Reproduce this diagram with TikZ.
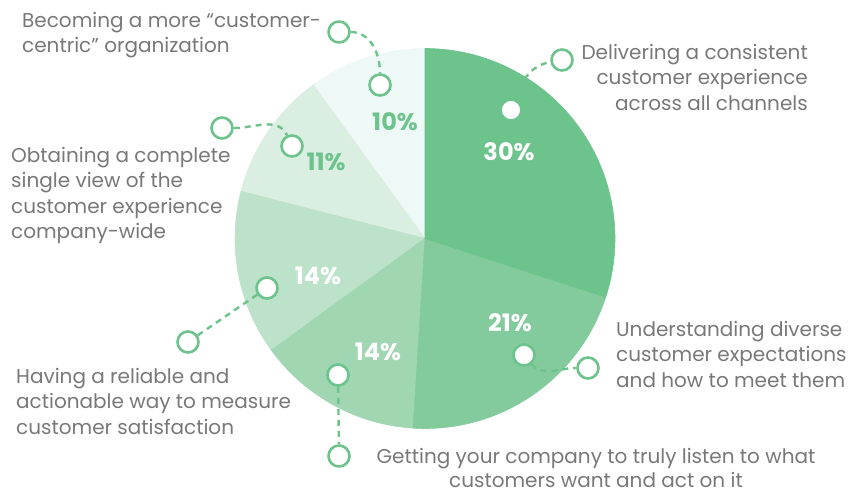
\documentclass[tikz,border=0pt]{standalone}
\usepackage{fontspec}
\setmainfont{Poppins}
\usetikzlibrary{positioning}
\definecolor{gA}{HTML}{6CC38B}
\definecolor{gB}{HTML}{83CB9D}
\definecolor{gC}{HTML}{A0D7B2}
\definecolor{gD}{HTML}{BCE2CA}
\definecolor{gE}{HTML}{DBEEE2}
\definecolor{gF}{HTML}{EEF8F7}
\definecolor{txt}{HTML}{787878}
\begin{document}
\begin{tikzpicture}[x=1pt,y=-1pt,font=\fontsize{20}{25.5}\selectfont,
    ring node/.style={circle,draw=gA,fill=white,line width=2.6pt,minimum size=21pt,inner sep=0pt},
    label node/.style={text=txt,inner sep=0pt},
    pct node/.style={font=\fontsize{24}{24}\selectfont\bfseries,text=white,inner sep=0pt},
    link/.style={draw=gA,line width=2.4pt,dash pattern=on 6pt off 5pt}]

    \useasboundingbox (0,0) rectangle (860,493);
    \coordinate (c) at (425,238.5);

    % slices, lightest first
    \foreach \a/\b/\col in {-234/-270/gF, -194.4/-234/gE, -144/-194.4/gD, -93.6/-144/gC, -18/-93.6/gB, 90/-18/gA}
        \filldraw[fill=\col,draw=\col,line width=0.6pt] (c) -- ++(\a:190pt) arc[start angle=\a, end angle=\b, radius=190pt] -- cycle;

    \node[pct node]               (p30) at (509,152) {30\%};
    \node[pct node]               (p21) at (510,323) {21\%};
    \node[pct node]               (p14b) at (378,352) {14\%};
    \node[pct node]               (p14a) at (318,276) {14\%};
    \node[pct node, text=gA]      (p11) at (326,162) {11\%};
    \node[pct node, text=gA]      (p10) at (395,122) {10\%};

    \node[ring node] (i30) at (511,110) {};
    \node[ring node] (o30) at (562,60) {};
    \node[ring node] (i21) at (524,355) {};
    \node[ring node] (o21) at (588,368) {};
    \node[ring node] (i14b) at (338,375) {};
    \node[ring node] (o14b) at (339,456) {};
    \node[ring node] (i14a) at (267,288) {};
    \node[ring node] (o14a) at (188,342) {};
    \node[ring node] (i11) at (292,146) {};
    \node[ring node] (o11) at (222,128) {};
    \node[ring node] (i10) at (380,85) {};
    \node[ring node] (o10) at (339,32) {};

    \path[link]
        (i30) edge[out=70, in=190] (o30)
        (i21) edge[out=-50, in=180] (o21)
        (i14b) edge (o14b)
        (i14a) edge (o14a)
        (o11) edge[out=0, in=115] (i11)
        (o10) edge[out=0, in=90] (i10)
    ;

    \node[label node, anchor=north east, align=right] (t30) at (808,44)
        {Delivering a consistent\\customer experience\\across all channels};
    \node[label node, anchor=north west, align=left] (t21) at (616,321)
        {Understanding diverse\\customer expectations\\and how to meet them};
    \node[label node, anchor=north, align=center, font=\fontsize{20}{24}\selectfont] (t14b) at (596,448)
        {Getting your company to truly listen to what\\customers want and act on it};
    \node[label node, anchor=north west, align=left] (t14a) at (16,368)
        {Having a reliable and\\actionable way to measure\\customer satisfaction};
    \node[label node, anchor=north west, align=left] (t11) at (11,147)
        {Obtaining a complete\\single view of the\\customer experience\\company-wide};
    \node[label node, anchor=north west, align=left] (t10) at (22,12)
        {Becoming a more “customer-\\centric” organization};
\end{tikzpicture}
\end{document}
